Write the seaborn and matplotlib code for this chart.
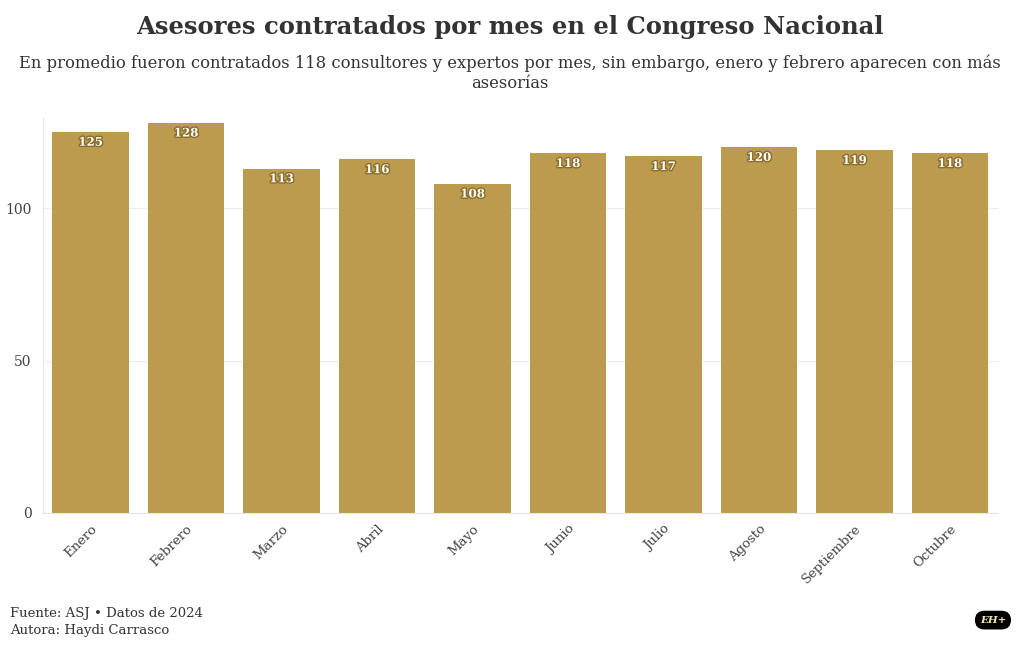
import matplotlib
matplotlib.use('Agg')
import matplotlib.pyplot as plt
import matplotlib.patheffects as pe
import pandas as pd
import seaborn as sns

# Datos
meses = ['Enero', 'Febrero', 'Marzo', 'Abril', 'Mayo', 'Junio',
         'Julio', 'Agosto', 'Septiembre', 'Octubre']
asesores = [125, 128, 113, 116, 108, 118, 117, 120, 119, 118]
y_ticks = [0, 50, 100]

df = pd.DataFrame({'mes': meses, 'asesores': asesores})

sns.set_theme(style='white')
plt.rcParams['font.family'] = ['DejaVu Serif']

fig = plt.figure(figsize=(10.2, 6.5), dpi=100)
ax = fig.add_axes([0.042, 0.211, 0.936, 0.607])

sns.barplot(data=df, x='mes', y='asesores', color='#BB9B4D', saturation=1,
            width=0.8, linewidth=0, ax=ax)

# etiquetas dentro de las barras
for i, v in enumerate(asesores):
    ax.text(i, v - 1.2, str(v), ha='center', va='top', fontsize=8.5,
            fontweight='bold', color='white',
            path_effects=[pe.withStroke(linewidth=2, foreground='#8a6d2a')])

ax.set_xlim(-0.5, 9.5)
ax.set_ylim(0, 129.5)
ax.set_yticks(y_ticks)
ax.yaxis.grid(True, color='#ececec', linewidth=0.8)
ax.set_axisbelow(True)
ax.set_xlabel('')
ax.set_ylabel('')

for side in ['top', 'right']:
    ax.spines[side].set_visible(False)
for side in ['left', 'bottom']:
    ax.spines[side].set_color('#e6e6e6')
    ax.spines[side].set_linewidth(0.8)

ax.tick_params(axis='x', length=4, color='#e6e6e6', labelsize=9.5,
               labelcolor='#444444', pad=3)
ax.tick_params(axis='y', length=0, labelsize=10, labelcolor='#444444', pad=8)
plt.setp(ax.get_xticklabels(), rotation=45, ha='right', rotation_mode='anchor')

fig.text(0.5, 0.958, 'Asesores contratados por mes en el Congreso Nacional',
         ha='center', va='center', fontsize=17.5, fontweight='bold', color='#333333')
fig.text(0.5, 0.887,
         'En promedio fueron contratados 118 consultores y expertos por mes, sin embargo, enero y febrero aparecen con más\nasesorías',
         ha='center', va='center', fontsize=11.8, color='#333333', linespacing=1.25)

fig.text(0.01, 0.043, 'Fuente: ASJ • Datos de 2024\nAutora: Haydi Carrasco',
         ha='left', va='center', fontsize=9.5, color='#333333', linespacing=1.45)

fig.text(0.9735, 0.046, 'EH+', ha='center', va='center', fontsize=7.5,
         fontweight='bold', style='italic', color='#f5e6b8',
         bbox=dict(boxstyle='round,pad=0.4,rounding_size=0.85',
                   facecolor='black', edgecolor='black'))

fig.savefig('out.png', dpi=100, facecolor='white')
